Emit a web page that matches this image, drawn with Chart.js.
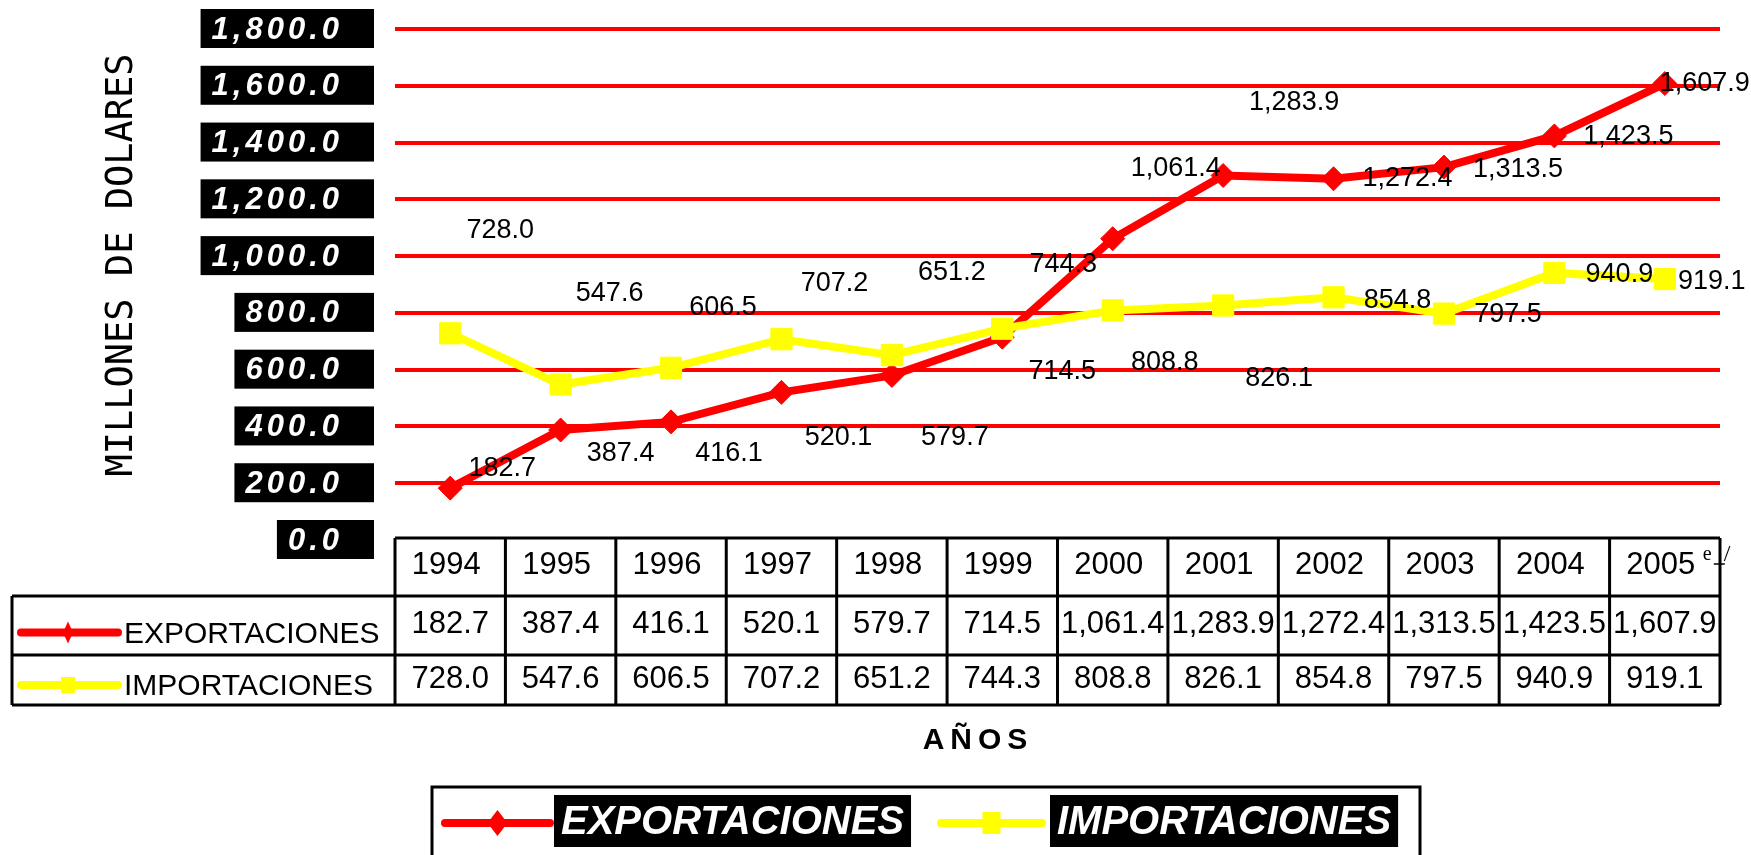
<!DOCTYPE html>
<html>
<head>
<meta charset="utf-8">
<script src="https://cdn.jsdelivr.net/npm/chart.js@4.4.1/dist/chart.umd.min.js"></script>
<style>
  html, body { margin: 0; padding: 0; background: #fff; }
  #wrap { width: 1751px; height: 855px; position: relative; }
</style>
</head>
<body>
<div id="wrap"><canvas id="grafico"></canvas></div>
<script>
// datos del grafico
const anios = ['1994', '1995', '1996', '1997', '1998', '1999', '2000', '2001', '2002', '2003', '2004', '2005'];
const exportaciones = [182.7, 387.4, 416.1, 520.1, 579.7, 714.5, 1061.4, 1283.9, 1272.4, 1313.5, 1423.5, 1607.9];
const importaciones = [728.0, 547.6, 606.5, 707.2, 651.2, 744.3, 808.8, 826.1, 854.8, 797.5, 940.9, 919.1];
const ticksY = [0, 200, 400, 600, 800, 1000, 1200, 1400, 1600, 1800];
const notaUltimoAnio = 'e/';

// desplazamiento (px) de cada etiqueta de valor respecto a su punto
const despExport = [[52,-20],[60,24],[58,32],[57,45],[63,62],[60,34],[63,-70],[71,-73],[74,0],[74,2],[74,1],[40,0]];
const despImport = [[50,-103],[49,-91],[52,-60],[53,-56],[60,-83],[61,-64],[52,52],[56,73],[64,3],[64,1],[65,2],[47,2]];

const ROJO = '#ff0000', AMARILLO = '#ffff00';
const ARIAL = '"Liberation Sans", Arial, sans-serif';
const fmt = v => v.toLocaleString('en-US', { minimumFractionDigits: 1, maximumFractionDigits: 1 });

function marcador(ctx, tipo, x, y, hw, hh, color) {
  ctx.fillStyle = color;
  ctx.beginPath();
  if (tipo === 'rombo') {
    ctx.moveTo(x - hw, y); ctx.lineTo(x, y - hh); ctx.lineTo(x + hw, y); ctx.lineTo(x, y + hh);
  } else {
    ctx.rect(x - hw, y - hh, hw * 2, hh * 2);
  }
  ctx.closePath();
  ctx.fill();
}

function lineaLeyenda(ctx, x1, x2, y, color, ancho) {
  ctx.strokeStyle = color;
  ctx.lineWidth = ancho;
  ctx.lineCap = 'round';
  ctx.beginPath(); ctx.moveTo(x1, y); ctx.lineTo(x2, y); ctx.stroke();
  ctx.lineCap = 'butt';
}

// etiquetas de valor junto a cada punto
const etiquetasValores = {
  id: 'etiquetasValores',
  afterDatasetsDraw(chart) {
    const ctx = chart.ctx;
    ctx.save();
    ctx.font = '27px ' + ARIAL;
    ctx.fillStyle = '#000';
    ctx.textAlign = 'center';
    ctx.textBaseline = 'middle';
    chart.data.datasets.forEach((ds, i) => {
      chart.getDatasetMeta(i).data.forEach((pt, j) => {
        const d = ds.desplazamientos[j];
        ctx.fillText(fmt(ds.data[j]), pt.x + d[0], pt.y + d[1]);
      });
    });
    ctx.restore();
  }
};

// eje Y con cajas negras, titulo, tabla de datos y leyenda
const decoracion = {
  id: 'decoracion',
  afterDraw(chart) {
    const ctx = chart.ctx;
    const ys = chart.scales.y, xs = chart.scales.x;
    ctx.save();

    // etiquetas del eje Y
    ctx.font = 'italic bold 31px ' + ARIAL;
    ctx.letterSpacing = '4px';
    ctx.textAlign = 'right';
    ctx.textBaseline = 'middle';
    ys.ticks.forEach(t => {
      const y = ys.getPixelForValue(t.value);
      const txt = fmt(t.value);
      const w = ctx.measureText(txt).width;
      ctx.fillStyle = '#000';
      ctx.fillRect(343 - w - 11, y - 20, 374 - (343 - w - 11), 39);
      ctx.fillStyle = '#fff';
      ctx.fillText(txt, 343, y + 1);
    });
    ctx.letterSpacing = '0px';

    // titulo eje Y
    ctx.save();
    ctx.translate(122, 265);
    ctx.rotate(-Math.PI / 2);
    ctx.font = '37px "DejaVu Sans Mono", monospace';
    ctx.fillStyle = '#000';
    ctx.textAlign = 'center';
    ctx.fillText('MILLONES DE DOLARES', 0, 0);
    ctx.restore();

    // tabla de datos
    const medio = (xs.getPixelForValue(1) - xs.getPixelForValue(0)) / 2;
    const izq = xs.getPixelForValue(0) - medio;
    const der = xs.getPixelForValue(anios.length - 1) + medio;
    const top = chart.chartArea.bottom - 2, r1 = top + 58, r2 = r1 + 59, bot = r2 + 50;
    const izqTabla = 12;
    ctx.strokeStyle = '#000';
    ctx.lineWidth = 3;
    ctx.beginPath();
    ctx.moveTo(izq, top); ctx.lineTo(der, top);
    [r1, r2, bot].forEach(y => { ctx.moveTo(izqTabla, y); ctx.lineTo(der, y); });
    ctx.moveTo(izqTabla, r1); ctx.lineTo(izqTabla, bot);
    for (let i = 0; i <= anios.length; i++) {
      const x = izq + i * medio * 2;
      ctx.moveTo(x, top); ctx.lineTo(x, bot);
    }
    ctx.stroke();

    ctx.font = '31px ' + ARIAL;
    ctx.fillStyle = '#000';
    ctx.textAlign = 'center';
    ctx.textBaseline = 'middle';
    anios.forEach((a, i) => {
      const cx = xs.getPixelForValue(i);
      ctx.fillText(a, cx - 4, (top + r1) / 2 - 2);
      ctx.fillText(fmt(exportaciones[i]), cx, (r1 + r2) / 2 - 1);
      ctx.fillText(fmt(importaciones[i]), cx, (r2 + bot) / 2 - 1);
    });
    // nota del ultimo anio
    const cxU = xs.getPixelForValue(anios.length - 1);
    ctx.font = '20px "Liberation Serif", serif';
    ctx.textAlign = 'left';
    ctx.fillText(notaUltimoAnio[0], cxU + 38, top + 17);
    ctx.font = '24px "Liberation Serif", serif';
    ctx.fillText(notaUltimoAnio[1], cxU + 59, top + 17);
    ctx.lineWidth = 1.5;
    ctx.beginPath(); ctx.moveTo(cxU + 49, top + 26); ctx.lineTo(cxU + 60, top + 26); ctx.stroke();

    // filas con su simbolo
    const filas = [
      { txt: 'EXPORTACIONES', color: ROJO, tipo: 'rombo', y: (r1 + r2) / 2 + 7, hw: 5, hh: 11 },
      { txt: 'IMPORTACIONES', color: AMARILLO, tipo: 'cuadro', y: (r2 + bot) / 2 + 5, hw: 7, hh: 8 }
    ];
    ctx.font = '30px ' + ARIAL;
    ctx.textBaseline = 'middle';
    filas.forEach(f => {
      lineaLeyenda(ctx, 21, 118, f.y, f.color, 8);
      marcador(ctx, f.tipo, 68, f.y, f.hw, f.hh, f.color);
      ctx.fillStyle = '#000';
      ctx.fillText(f.txt, 124, f.y + 2);
    });

    // titulo eje X
    ctx.font = 'bold 30px ' + ARIAL;
    ctx.letterSpacing = '6px';
    ctx.textAlign = 'center';
    ctx.fillText('AÑOS', 978, 741);
    ctx.letterSpacing = '0px';

    // leyenda inferior
    ctx.strokeStyle = '#000';
    ctx.lineWidth = 3;
    ctx.strokeRect(432, 787, 1420 - 432, 100);
    const ley = [
      { txt: 'EXPORTACIONES', color: ROJO, tipo: 'rombo', x1: 445, x2: 550, box: 554, hw: 10, hh: 13 },
      { txt: 'IMPORTACIONES', color: AMARILLO, tipo: 'cuadro', x1: 941, x2: 1042, box: 1050, hw: 9, hh: 11 }
    ];
    ctx.font = 'italic bold 40px ' + ARIAL;
    ctx.textAlign = 'left';
    ley.forEach(l => {
      lineaLeyenda(ctx, l.x1, l.x2, 823, l.color, 8);
      marcador(ctx, l.tipo, (l.x1 + l.x2) / 2, 823, l.hw, l.hh, l.color);
      const w = ctx.measureText(l.txt).width;
      ctx.fillStyle = '#000';
      ctx.fillRect(l.box, 795, w + 14, 52);
      ctx.fillStyle = '#fff';
      ctx.fillText(l.txt, l.box + 7, 823);
    });

    ctx.restore();
  }
};

new Chart(document.getElementById('grafico'), {
  type: 'line',
  data: {
    labels: anios,
    datasets: [
      {
        label: 'EXPORTACIONES', data: exportaciones, desplazamientos: despExport,
        borderColor: ROJO, backgroundColor: ROJO, borderWidth: 8,
        pointStyle: 'rectRot', pointRadius: 12, pointBorderWidth: 1, order: 1
      },
      {
        label: 'IMPORTACIONES', data: importaciones, desplazamientos: despImport,
        borderColor: AMARILLO, backgroundColor: AMARILLO, borderWidth: 8,
        pointStyle: 'rect', pointRadius: 15, pointBorderWidth: 1, order: 0
      }
    ]
  },
  options: {
    responsive: true,
    maintainAspectRatio: false,
    animation: false,
    layout: { padding: { left: 395, right: 31, top: 29, bottom: 315 } },
    plugins: { legend: { display: false }, tooltip: { enabled: false } },
    scales: {
      x: { display: false, offset: true },
      y: {
        min: ticksY[0], max: ticksY[ticksY.length - 1],
        afterBuildTicks: s => { s.ticks = ticksY.map(v => ({ value: v })); },
        afterFit: s => { s.width = 0; },
        ticks: { display: false },
        border: { display: false },
        grid: {
          drawTicks: false, lineWidth: 4,
          color: c => (c.tick && c.tick.value === 0) ? 'rgba(0,0,0,0)' : ROJO
        }
      }
    }
  },
  plugins: [etiquetasValores, decoracion]
});
</script>
</body>
</html>
